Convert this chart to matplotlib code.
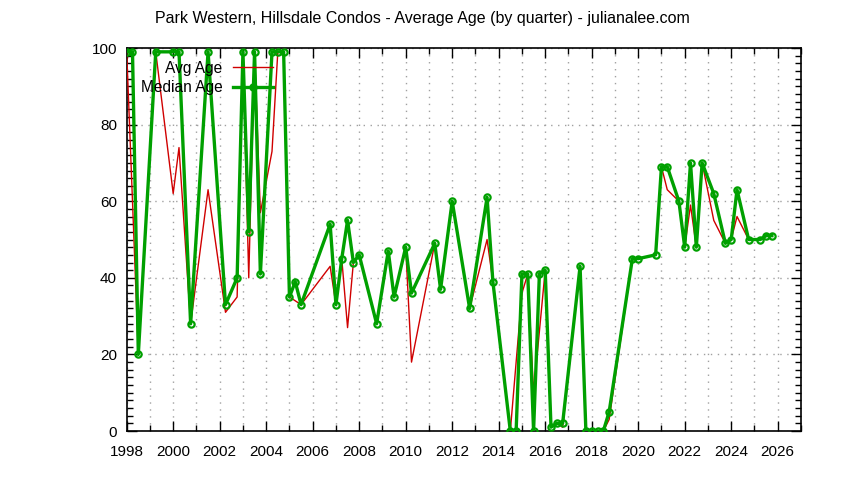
import numpy as np
import matplotlib
matplotlib.use("Agg")
import matplotlib.pyplot as plt
from matplotlib.ticker import MultipleLocator

# quarters (decimal year) and ages
quarters = [1998.0, 1998.25, 1998.5, 1999.25, 2000.0, 2000.25, 2000.75, 2001.5,
            2002.25, 2002.75, 2003.0, 2003.25, 2003.5, 2003.75, 2004.25, 2004.5,
            2004.75, 2005.0, 2005.25, 2005.5, 2006.75, 2007.0, 2007.25, 2007.5,
            2007.75, 2008.0, 2008.75, 2009.25, 2009.5, 2010.0, 2010.25, 2011.25,
            2011.5, 2012.0, 2012.75, 2013.5, 2013.75, 2014.5, 2014.75, 2015.0,
            2015.25, 2015.5, 2015.75, 2016.0, 2016.25, 2016.5, 2016.75, 2017.5,
            2017.75, 2018.0, 2018.25, 2018.5, 2018.75, 2019.75, 2020.0, 2020.75,
            2021.0, 2021.25, 2021.75, 2022.0, 2022.25, 2022.5, 2022.75, 2023.25,
            2023.75, 2024.0, 2024.25, 2024.75, 2025.25, 2025.5, 2025.75]

avg_age = [99, 60, 20, 99, 62, 74, 28, 63,
           31, 35, 99, 40, 99, 57, 73, 99,
           99, 35, 34, 33, 43, 33, 45, 27,
           44, 46, 28, 47, 35, 48, 18, 49,
           37, 60, 32, 50, 39, 0, 18, 36,
           41, 10, 26, 42, 1, 2, 1, 43,
           0, 0, 0, 0, 3, 45, 45, 46,
           69, 63, 60, 48, 59, 48, 70, 55,
           49, 50, 56, 50, 50, 51, 51]

median_age = [99, 99, 20, 99, 99, 99, 28, 99,
              33, 40, 99, 52, 99, 41, 99, 99,
              99, 35, 39, 33, 54, 33, 45, 55,
              44, 46, 28, 47, 35, 48, 36, 49,
              37, 60, 32, 61, 39, 0, 0, 41,
              41, 0, 41, 42, 1, 2, 2, 43,
              0, 0, 0, 0, 5, 45, 45, 46,
              69, 69, 60, 48, 70, 48, 70, 62,
              49, 50, 63, 50, 50, 51, 51]

plt.rcParams['font.family'] = ['Liberation Sans', 'DejaVu Sans']

fig = plt.figure(figsize=(8.44, 4.8), dpi=100)
ax = fig.add_axes([0.1501, 0.102, 0.7989, 0.798])

ax.plot(quarters, avg_age, color="#d00000", lw=1.0, label="Avg Age", zorder=3)
ax.plot(quarters, median_age, color="#00a000", lw=2.4, marker="o", ms=4.5,
        mfc="none", mec="#00a000", mew=1.6, label="Median Age", zorder=4)

ax.set_xlim(1998, 2027)
ax.set_ylim(0, 100)
ax.xaxis.set_major_locator(MultipleLocator(2))
ax.xaxis.set_minor_locator(MultipleLocator(1))
ax.yaxis.set_major_locator(MultipleLocator(20))
ax.yaxis.set_minor_locator(MultipleLocator(2))

ax.tick_params(which="both", direction="in", top=True, right=True,
               labelsize=11, colors="black")
ax.tick_params(axis="x", which="major", pad=10)
ax.tick_params(axis="y", which="major", pad=7)
ax.tick_params(which="major", length=7, width=1)
ax.tick_params(which="minor", length=4, width=1)

ax.grid(True, which="major", axis="y", color="#a0a0a0", ls=(0, (1, 4)), lw=1)
ax.grid(True, which="both", axis="x", color="#a0a0a0", ls=(0, (1, 4)), lw=1)
for sp in ax.spines.values():
    sp.set_linewidth(1.2)

fig.text(0.5, 1 - 19 / 480, "Park Western, Hillsdale Condos - Average Age (by quarter) - julianalee.com",
         fontsize=11.5, ha="center", va="center")

leg = ax.legend(loc="upper left", bbox_to_anchor=(0.005, 0.995), frameon=False,
                markerfirst=False, fontsize=11.2, handlelength=2.6, numpoints=1,
                labelspacing=0.3, handletextpad=0.65, borderpad=0.2)

fig.savefig("out.png", dpi=100)
